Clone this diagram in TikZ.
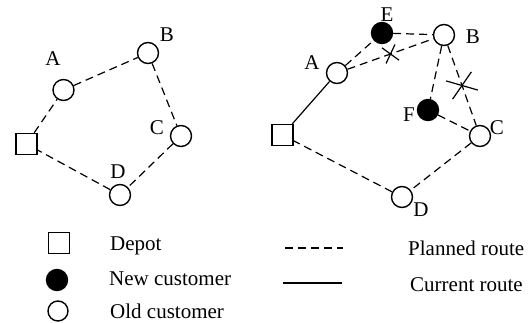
\documentclass[tikz,border=0pt]{standalone}
\usepackage{fontspec}
\setmainfont{Liberation Serif}
\usetikzlibrary{shapes,positioning}

\begin{document}
\begin{tikzpicture}[
    x=1pt, y=-1pt,
    font=\fontsize{21}{25}\selectfont,
    depot/.style={rectangle, draw, line width=1.4pt, minimum size=21pt, inner sep=0pt},
    oldcust/.style={circle, draw, fill=white, line width=1.4pt, minimum size=21pt, inner sep=0pt},
    newcust/.style={circle, draw, fill=black, line width=1.4pt, minimum size=21pt, inner sep=0pt},
    lbl/.style={inner sep=0pt},
    planned/.style={line width=1.2pt, dash pattern=on 8pt off 5pt},
    current/.style={line width=1.2pt},
    cut/.style={cross out, draw, solid, line width=1.2pt, inner sep=0pt, outer sep=0pt}
]
    \useasboundingbox (0,0) rectangle (531,323);

    % Planned tour
    \node[depot] (depL) at (26.5,144) {};
    \node[oldcust] (aL) at (63.5,90) {};
    \node[oldcust] (bL) at (148,53) {};
    \node[oldcust] (cL) at (181,136) {};
    \node[oldcust] (dL) at (120,195) {};
    \node[lbl] (labAL) at (53,59) {A};
    \node[lbl] (labBL) at (167,35) {B};
    \node[lbl] (labCL) at (157,128) {C};
    \node[lbl] (labDL) at (118,172) {D};
    \draw[planned] (depL) -- (aL) -- (bL) -- (cL) -- (dL) -- (depL);

    % Tour with new customers
    \node[depot] (depR) at (282.5,135) {};
    \node[oldcust] (aR) at (337,73) {};
    \node[newcust] (eR) at (382,33) {};
    \node[oldcust] (bR) at (444,35) {};
    \node[newcust] (fR) at (428,110) {};
    \node[oldcust] (cR) at (480,136) {};
    \node[oldcust] (dR) at (402,197) {};
    \node[lbl] (labAR) at (312,63) {A};
    \node[lbl] (labER) at (387,15) {E};
    \node[lbl] (labBR) at (473,37) {B};
    \node[lbl] (labFR) at (409,115) {F};
    \node[lbl] (labCR) at (497,128) {C};
    \node[lbl] (labDR) at (421,210) {D};
    \draw[current] (depR) -- (aR);
    \draw[planned] (aR) -- (eR) -- (bR) -- (fR) -- (cR) -- (dR) -- (depR);
    \draw[planned] (aR) -- node[cut, minimum width=13.4pt, minimum height=16.2pt, rotate=14.5] (cutAB) {} (bR);
    \draw[planned] (bR) -- node[cut, minimum width=26.8pt, minimum height=19.3pt, rotate=19.7] (cutBC) {} (cR);

    % Legend
    \node[depot] (keyDepot) at (59,243) {};
    \node[newcust] (keyNew) at (57,280) {};
    \node[oldcust, minimum size=20pt] (keyOld) at (58,311) {};
    \node[lbl, anchor=west] (txtDepot) at (110,246) {Depot};
    \node[lbl, anchor=west] (txtNew) at (109,279) {New customer};
    \node[lbl, anchor=west] (txtOld) at (110,311) {Old customer};
    \coordinate (keyPlanA) at (285,248);
    \coordinate (keyPlanB) at (343,248);
    \coordinate (keyCurA) at (283,283);
    \coordinate (keyCurB) at (342,283);
    \draw[planned] (keyPlanA) -- (keyPlanB);
    \draw[current] (keyCurA) -- (keyCurB);
    \node[lbl, anchor=west] (txtPlanned) at (408,248) {Planned route};
    \node[lbl, anchor=west] (txtCurrent) at (410,285) {Current route};
\end{tikzpicture}
\end{document}
